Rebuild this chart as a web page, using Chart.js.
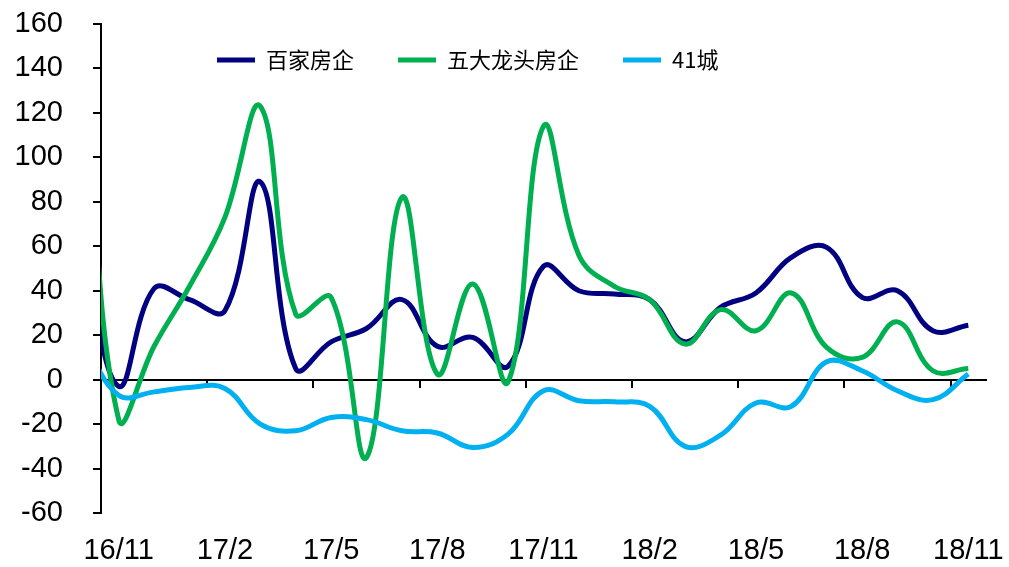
<!DOCTYPE html>
<html>
<head>
<meta charset="utf-8">
<script src="https://cdn.jsdelivr.net/npm/chart.js@4"></script>
<style>
  html, body { margin: 0; padding: 0; background: #fff; }
  #wrap { width: 1009px; height: 567px; }
</style>
</head>
<body>
<div id="wrap"><canvas id="chart" width="1009" height="567"></canvas></div>
<script>
// monthly, 16/10 sits just left of the axis and is clipped
const months = ['16/10', '16/11', '16/12', '17/1', '17/2', '17/3', '17/4', '17/5', '17/6', '17/7',
  '17/8', '17/9', '17/10', '17/11', '17/12', '18/1', '18/2', '18/3', '18/4', '18/5',
  '18/6', '18/7', '18/8', '18/9', '18/10', '18/11'];

const baijia = [60, -3, 41, 36, 31, 89, 5, 17, 23, 36, 15, 19, 6, 51, 40, 38.5, 36, 17, 32.5, 39,
  55, 59.5, 37, 40, 22, 24.5];
const wuda = [150, -18, 15, 42, 73, 123, 29.5, 37, -35, 82, 2.5, 43, -1, 114, 56, 42, 36, 16, 31.5, 22,
  39, 14.5, 10, 26, 4, 5];
const city41 = [18, -7, -5.5, -3.5, -4, -20, -23, -17, -18, -23, -24, -30.5, -24.5, -5, -9.5, -10, -12, -30, -25, -10.5,
  -12, 8, 4, -5, -9, 2.5];

const seriesNames = ['百家房企', '五大龙头房企', '41城'];
const yTicks = { min: -60, max: 160, step: 20 };

const tickFont = { family: "'Liberation Sans', Arial, sans-serif", size: 29 };

// legend lies inside the plot in one row, like the original
const legendInside = {
  id: 'legendInside',
  afterInit(chart) {
    if (chart.legend) chart.legend.isHorizontal = () => true;
  },
  afterLayout(chart) {
    const lg = chart.legend;
    if (!lg) return;
    lg.left = chart.chartArea.left + 72;
    lg.right = lg.left + lg.width;
    lg.top = chart.chartArea.top - 19;
  }
};

new Chart(document.getElementById('chart'), {
  type: 'line',
  data: {
    labels: months,
    datasets: [
      { label: seriesNames[0], data: baijia, borderColor: '#000080', backgroundColor: '#000080', order: 2 },
      { label: seriesNames[1], data: wuda, borderColor: '#00B050', backgroundColor: '#00B050', order: 1 },
      { label: seriesNames[2], data: city41, borderColor: '#00B0F0', backgroundColor: '#00B0F0', order: 0 }
    ]
  },
  options: {
    responsive: false,
    animation: false,
    devicePixelRatio: 1,
    layout: { padding: { left: 15, right: 23, top: 24, bottom: 0 } },
    datasets: {
      line: { borderWidth: 5, pointRadius: 0, tension: 0.4, clip: 0, fill: false }
    },
    plugins: {
      tooltip: { enabled: false },
      legend: {
        position: 'chartArea',
        align: 'start',
        labels: {
          usePointStyle: true,
          pointStyle: 'line',
          pointStyleWidth: 38,
          padding: 44,
          color: '#000',
          font: { family: "'Noto Sans CJK SC', sans-serif", size: 22 },
          sort: (a, b) => a.datasetIndex - b.datasetIndex
        }
      }
    },
    scales: {
      x: {
        type: 'category',
        min: '16/11',
        offset: true,
        position: { y: 0 },
        border: { display: true, color: '#000', width: 2 },
        grid: {
          offset: true,
          drawOnChartArea: false,
          tickLength: 7,
          lineWidth: 2,
          color: ctx => (ctx.index % 3 === 0 ? '#000' : 'rgba(0,0,0,0)')
        },
        ticks: { display: false, autoSkip: false }
      },
      xLabels: {
        type: 'category',
        axis: 'x',
        min: '16/11',
        offset: true,
        position: 'bottom',
        border: { display: false },
        grid: { display: false },
        ticks: {
          autoSkip: false,
          maxRotation: 0,
          padding: 13,
          color: '#000',
          font: tickFont,
          callback: function (value, index) {
            return index % 3 === 0 ? this.getLabelForValue(value) : '';
          }
        },
        afterFit(scale) {
          scale.height = 54;
          scale.paddingLeft = 0;
          scale.paddingRight = 0;
          scale.paddingTop = 0;
          scale.paddingBottom = 0;
        }
      },
      y: {
        min: yTicks.min,
        max: yTicks.max,
        border: { display: true, color: '#000', width: 2 },
        grid: { drawOnChartArea: false, tickLength: 8, color: '#000', lineWidth: 2 },
        ticks: { stepSize: yTicks.step, padding: 30, color: '#000', font: tickFont },
        afterFit(scale) {
          scale.width = 86;
          scale.paddingTop = 0;
          scale.paddingBottom = 0;
        }
      }
    }
  },
  plugins: [legendInside]
});
</script>
</body>
</html>
